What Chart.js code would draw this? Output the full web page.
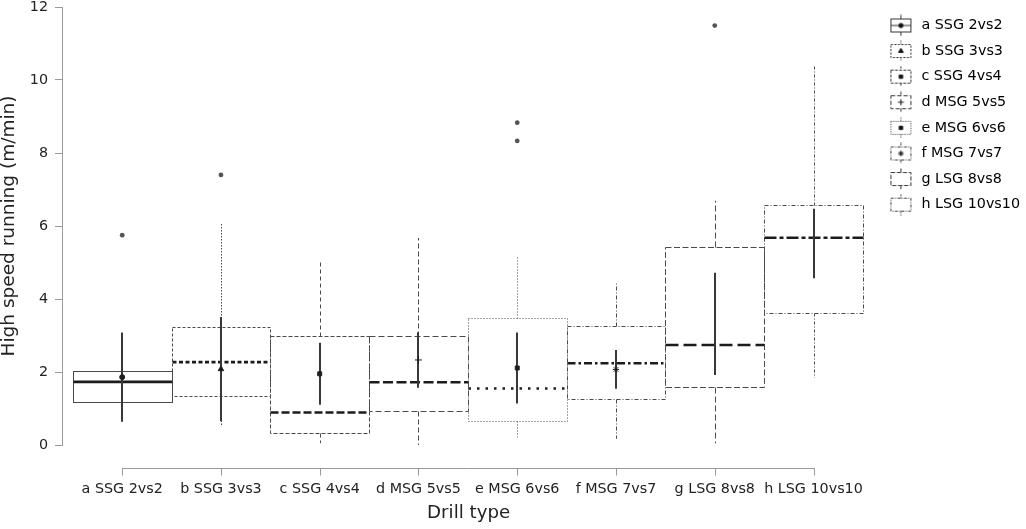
<!DOCTYPE html>
<html>
<head>
<meta charset="utf-8">
<script src="https://cdn.jsdelivr.net/npm/chart.js@4/dist/chart.umd.min.js"></script>
<style>
html,body{margin:0;padding:0;background:#fff;overflow:hidden}
#c{display:block}
</style>
</head>
<body>
<canvas id="c" width="1026" height="529"></canvas>
<script>
// ---------- data ----------
const categories   = ['a SSG 2vs2','b SSG 3vs3','c SSG 4vs4','d MSG 5vs5','e MSG 6vs6','f MSG 7vs7','g LSG 8vs8','h LSG 10vs10'];
const q1           = [1.17, 1.34, 0.32, 0.92, 0.66, 1.25, 1.60, 3.63];
const medians      = [1.73, 2.27, 0.89, 1.72, 1.55, 2.24, 2.74, 5.68];
const q3           = [2.02, 3.23, 2.99, 3.00, 3.49, 3.26, 5.42, 6.58];
const whiskerLow   = [0.70, 0.50, 0.05, 0.00, 0.21, 0.17, 0.05, 1.84];
const whiskerHigh  = [3.00, 6.07, 5.02, 5.67, 5.16, 4.47, 6.69, 10.38];
const means        = [1.86, 2.08, 1.95, 2.33, 2.11, 2.07, 3.32, 5.52];
const sds          = [1.22, 1.43, 0.85, 0.76, 0.97, 0.53, 1.40, 0.95];
const outlierCat   = [0, 1, 4, 4, 6];
const outlierVal   = [5.75, 7.40, 8.83, 8.33, 11.49];
const yTicks       = [0, 2, 4, 6, 8, 10, 12];

// ---------- styles ----------
const boxDash     = [[], [3,2], [4,2], [6,3], [1,2], [4,2,1,2], [6,2.5], [4,2,1,2]];
const medianDash  = [[], [4,2.5], [8,3], [10,3.5], [2.5,6], [8,3,2.5,3], [13,5], [12,3,4,3]];
const whiskerDash = [[], [1.5,1.5], [4,3], [5,3], [1,2], [4,2,1,2], [6,3], [3,2,1,2]];
const meanStyle   = ['circle','triangle','rect','cross','rect','star','circle','circle'];
const meanRadius  = [2.5, 3.2, 2.8, 3.5, 2.8, 3.2, 0, 0];

const FONT = 'DejaVu Sans';
Chart.defaults.font.family = FONT;
Chart.defaults.color = '#222';

const BOX_COLOR = '#4a4a4a';
const AXIS_COLOR = '#9a9a9a';

// ---------- legend icons ----------
function makeIcon(i) {
  const c = document.createElement('canvas');
  c.width = 24; c.height = 22;
  const g = c.getContext('2d');
  const cx = 12.5, top = 4.5, bot = 17.5, l = 2.5, r = 22.5;
  g.strokeStyle = '#333'; g.lineWidth = 1;
  g.setLineDash(whiskerDash[i].map(v => Math.max(1, v * 0.6)));
  g.beginPath(); g.moveTo(cx, 0.5); g.lineTo(cx, top); g.moveTo(cx, bot); g.lineTo(cx, 21.5); g.stroke();
  g.setLineDash(boxDash[i].map(v => Math.max(1, v * 0.7)));
  g.strokeRect(l, top, r - l, bot - top);
  if (i === 0) { g.setLineDash([]); g.beginPath(); g.moveTo(l, 11); g.lineTo(r, 11); g.stroke(); }
  if (meanRadius[i] > 0) {
    g.setLineDash([]);
    g.fillStyle = '#111'; g.strokeStyle = '#111';
    Chart.helpers.drawPoint(g, {pointStyle: meanStyle[i], radius: meanRadius[i] * 0.85, borderWidth: 1, rotation: 0}, cx, 11);
  }
  return c;
}
const icons = categories.map((_, i) => makeIcon(i));

// ---------- box plot drawing plugin (uses the chart's scales) ----------
function seg(ctx, x1, y1, x2, y2) { ctx.beginPath(); ctx.moveTo(x1, y1); ctx.lineTo(x2, y2); ctx.stroke(); }
const snap = v => Math.round(v) + 0.5;

const boxPlugin = {
  id: 'boxplot',
  beforeDatasetsDraw(chart) {
    const {ctx, scales: {x, y}} = chart;
    const meta = chart.getDatasetMeta(0);
    ctx.save();
    categories.forEach((_, i) => {
      const el = meta.data[i];
      if (!el) return;
      const xc = snap(x.getPixelForValue(i));
      const half = el.width / 2;
      const left = snap(el.x - half), right = snap(el.x + half);
      const yTop = snap(Math.min(el.y, el.base)), yBot = snap(Math.max(el.y, el.base));
      ctx.lineCap = 'butt';
      // whiskers
      ctx.strokeStyle = BOX_COLOR; ctx.lineWidth = 1; ctx.setLineDash(whiskerDash[i]);
      seg(ctx, xc, yTop, xc, y.getPixelForValue(whiskerHigh[i]));
      seg(ctx, xc, yBot, xc, y.getPixelForValue(whiskerLow[i]));
      // box
      ctx.setLineDash(boxDash[i]);
      ctx.strokeRect(left, yTop, right - left, yBot - yTop);
      // median
      ctx.strokeStyle = '#1c1c1c'; ctx.lineWidth = 2.6; ctx.setLineDash(medianDash[i]);
      const ym = y.getPixelForValue(medians[i]);
      seg(ctx, left, ym, right, ym);
      // mean +/- sd
      ctx.strokeStyle = '#383838'; ctx.lineWidth = 2; ctx.setLineDash([]);
      seg(ctx, xc - 0.5, y.getPixelForValue(means[i] - sds[i]), xc - 0.5, y.getPixelForValue(means[i] + sds[i]));
    });
    // x axis line, detached below the plot region, spanning first to last category
    const ay = Math.round(chart.chartArea.bottom) + 23.5;
    ctx.strokeStyle = AXIS_COLOR; ctx.lineWidth = 1; ctx.setLineDash([]);
    const x0 = snap(x.getPixelForValue(0)), x1 = snap(x.getPixelForValue(categories.length - 1));
    seg(ctx, x0 - 0.5, ay, x1 + 0.5, ay);
    categories.forEach((_, i) => {
      const px = snap(x.getPixelForValue(i));
      seg(ctx, px, ay, px, ay + 7);
    });
    ctx.restore();
  }
};

const config = {
  type: 'bar',
  data: {
    datasets: [
      {
        label: 'IQR',
        data: categories.map((_, i) => ({x: i, y: [q1[i], q3[i]]})),
        backgroundColor: 'rgba(0,0,0,0)',
        borderWidth: 0,
        barPercentage: 1,
        categoryPercentage: 1
      },
      {
        type: 'scatter',
        label: 'Mean',
        data: categories.map((_, i) => ({x: i, y: means[i]})),
        pointStyle: meanStyle,
        pointRadius: meanRadius,
        pointHoverRadius: meanRadius,
        backgroundColor: '#1e1e1e',
        borderColor: '#1e1e1e',
        borderWidth: 1
      },
      {
        type: 'scatter',
        label: 'Outliers',
        data: outlierCat.map((c, k) => ({x: c, y: outlierVal[k]})),
        pointStyle: 'circle',
        pointRadius: 2.4,
        backgroundColor: '#555',
        borderColor: '#555',
        borderWidth: 0
      }
    ]
  },
  options: {
    responsive: false,
    maintainAspectRatio: false,
    animation: false,
    devicePixelRatio: 1,
    layout: { padding: { top: 7, right: -4, bottom: 0, left: 0 } },
    plugins: {
      tooltip: { enabled: false },
      legend: {
        position: 'right',
        align: 'start',
        onClick: null,
        labels: {
          usePointStyle: true,
          pointStyleWidth: 27.7,
          padding: 11.3,
          color: '#222',
          font: { size: 14.3 },
          generateLabels: () => categories.map((c, i) => ({
            text: c, pointStyle: icons[i], fillStyle: 'rgba(0,0,0,0)',
            strokeStyle: 'rgba(0,0,0,0)', lineWidth: 0, hidden: false, datasetIndex: 0, index: i
          }))
        }
      }
    },
    scales: {
      x: {
        type: 'linear',
        offset: false,
        min: -0.61,
        max: 7.63,
        afterBuildTicks: s => { s.ticks = categories.map((_, i) => ({value: i})); },
        afterFit: s => { s.height = 84; s.paddingLeft = 0; s.paddingRight = 0; },
        grid: { display: false, drawTicks: false, tickLength: 0, offset: false },
        border: { display: false },
        ticks: {
          autoSkip: false, maxRotation: 0, minRotation: 0,
          padding: 35.5,
          color: '#222',
          font: { size: 14.3 },
          callback: v => categories[v] ?? ''
        },
        title: { display: true, text: 'Drill type', color: '#222', font: { size: 18.2 }, padding: { top: 4, bottom: 5 } }
      },
      y: {
        min: 0,
        max: 12,
        afterBuildTicks: s => { s.ticks = yTicks.map(v => ({value: v})); },
        afterFit: s => { s.width = 62; s.paddingTop = 0; s.paddingBottom = 0; },
        grid: { display: true, drawOnChartArea: false, drawTicks: true, tickLength: 7, color: AXIS_COLOR, lineWidth: 1 },
        border: { display: true, color: AXIS_COLOR, width: 1 },
        ticks: { padding: 7, color: '#222', font: { size: 14.3 } },
        title: { display: true, text: 'High speed running (m/min)', color: '#222', font: { size: 18.5, lineHeight: 1 }, padding: { top: 0, bottom: 0 } }
      }
    }
  },
  plugins: [boxPlugin]
};

const chart = new Chart(document.getElementById('c'), config);
// align category centres with the reference (first at x=122.2, last at x=813.5)
(function align() {
  const a = chart.chartArea;
  const first = 122.2, last = 813.5;
  const step = (last - first) / (categories.length - 1);
  const min = -(first - a.left) / step;
  const max = min + (a.right - a.left) / step;
  chart.options.scales.x.min = min;
  chart.options.scales.x.max = max;
  chart.update('none');
})();
</script>
</body>
</html>
